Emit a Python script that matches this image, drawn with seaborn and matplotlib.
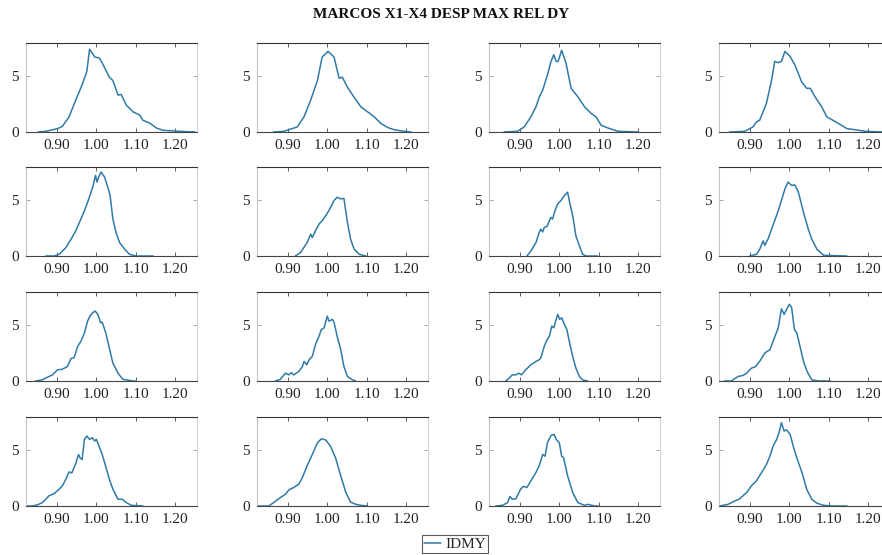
import numpy as np
import pandas as pd
import matplotlib
matplotlib.use("Agg")
import matplotlib.pyplot as plt
import seaborn as sns

# values, one x/y pair per panel (row by row)
x_p1 = [0.853, 0.872, 0.902, 0.914, 0.931, 0.948, 0.965, 0.976, 0.983, 0.996, 1.008, 1.016, 1.033, 1.042,
        1.055, 1.063, 1.076, 1.093, 1.110, 1.118, 1.135, 1.152, 1.169, 1.195, 1.216, 1.250]
y_p1 = [0, 0.06, 0.3, 0.5, 1.35, 2.85, 4.3, 5.4, 7.4, 6.7, 6.6, 6.1, 4.9, 4.6,
        3.3, 3.35, 2.4, 1.8, 1.5, 1.05, 0.8, 0.36, 0.15, 0.1, 0.05, 0]

x_p2 = [0.864, 0.890, 0.924, 0.941, 0.958, 0.975, 0.987, 1.002, 1.017, 1.030, 1.038, 1.051, 1.068, 1.085,
        1.102, 1.119, 1.136, 1.153, 1.170, 1.195, 1.212]
y_p2 = [0, 0.06, 0.45, 1.35, 2.85, 4.6, 6.7, 7.2, 6.7, 4.8, 4.9, 4.0, 3.1, 2.25,
        1.8, 1.35, 0.75, 0.4, 0.2, 0.06, 0]

x_p3 = [0.860, 0.894, 0.911, 0.928, 0.941, 0.949, 0.958, 0.970, 0.979, 0.986, 0.992, 0.997, 1.006, 1.017,
        1.030, 1.047, 1.064, 1.081, 1.093, 1.106, 1.123, 1.149, 1.200]
y_p3 = [0, 0.06, 0.45, 1.35, 2.25, 3.1, 3.75, 5.1, 6.3, 6.9, 6.3, 6.3, 7.3, 6.15,
        3.9, 3.15, 2.25, 1.65, 1.35, 0.6, 0.36, 0.06, 0]

x_p4 = [0.849, 0.887, 0.908, 0.917, 0.925, 0.942, 0.955, 0.963, 0.972, 0.980, 0.989, 1.002, 1.014, 1.031,
        1.044, 1.053, 1.065, 1.082, 1.095, 1.108, 1.125, 1.146, 1.167, 1.193, 1.218, 1.255]
y_p4 = [0, 0.06, 0.45, 0.9, 1.05, 2.55, 4.6, 6.3, 6.2, 6.3, 7.2, 6.75, 6.0, 4.5,
        3.9, 3.9, 3.15, 2.25, 1.35, 1.1, 0.75, 0.3, 0.2, 0.06, 0.02, 0]

x_p5 = [0.872, 0.893, 0.906, 0.923, 0.936, 0.948, 0.961, 0.970, 0.978, 0.991, 0.998, 1.002, 1.006, 1.012,
        1.021, 1.029, 1.035, 1.042, 1.050, 1.059, 1.072, 1.084, 1.101, 1.144]
y_p5 = [0, 0, 0.15, 0.75, 1.5, 2.25, 3.3, 4.05, 4.8, 6.15, 7.2, 6.6, 7.05, 7.5,
        7.05, 6.15, 5.4, 3.3, 2.1, 1.2, 0.6, 0.15, 0, 0]

x_p6 = [0.919, 0.932, 0.949, 0.958, 0.962, 0.970, 0.979, 0.987, 0.996, 1.004, 1.017, 1.025, 1.034, 1.042,
        1.051, 1.059, 1.068, 1.081, 1.098]
y_p6 = [0, 0.3, 1.2, 1.95, 1.65, 2.25, 2.85, 3.15, 3.6, 4.05, 4.95, 5.25, 5.1, 5.15,
        3.0, 1.5, 0.6, 0.15, 0]

x_p7 = [0.918, 0.928, 0.941, 0.949, 0.953, 0.958, 0.962, 0.969, 0.975, 0.979, 0.983, 0.989, 0.996, 1.004,
        1.013, 1.021, 1.028, 1.034, 1.042, 1.051, 1.059, 1.068, 1.097]
y_p7 = [0, 0.45, 1.2, 2.1, 2.4, 2.15, 2.55, 2.65, 3.15, 3.45, 3.3, 4.05, 4.65, 4.95,
        5.4, 5.7, 4.5, 3.6, 1.8, 0.9, 0.15, 0, 0]

x_p8 = [0.900, 0.917, 0.925, 0.934, 0.938, 0.946, 0.955, 0.963, 0.972, 0.980, 0.989, 0.997, 1.006, 1.014,
        1.023, 1.036, 1.048, 1.057, 1.070, 1.087, 1.146]
y_p8 = [0, 0.15, 0.6, 1.35, 0.95, 1.5, 2.4, 3.15, 4.05, 4.95, 6.0, 6.6, 6.3, 6.35,
        5.7, 3.9, 2.4, 1.5, 0.6, 0.06, 0]

x_p9 = [0.846, 0.863, 0.876, 0.889, 0.902, 0.914, 0.927, 0.936, 0.944, 0.953, 0.961, 0.970, 0.978, 0.984,
        0.991, 0.997, 1.004, 1.011, 1.015, 1.024, 1.034, 1.042, 1.055, 1.067, 1.093, 1.101]
y_p9 = [0, 0.1, 0.33, 0.55, 1.0, 1.05, 1.3, 2.0, 2.1, 3.1, 3.55, 4.3, 5.35, 5.8,
        6.1, 6.25, 5.95, 5.2, 5.25, 4.3, 2.8, 1.6, 0.7, 0.15, 0, 0]

x_p10 = [0.868, 0.881, 0.894, 0.903, 0.909, 0.915, 0.928, 0.937, 0.941, 0.948, 0.954, 0.962, 0.970, 0.979,
         0.985, 0.992, 1.000, 1.004, 1.013, 1.017, 1.025, 1.034, 1.042, 1.051, 1.064, 1.072]
y_p10 = [0, 0.15, 0.7, 0.55, 0.75, 0.55, 0.85, 1.3, 1.75, 1.45, 1.9, 2.2, 3.25, 4.0,
         4.6, 4.75, 5.8, 5.35, 5.5, 5.25, 4.0, 2.8, 1.3, 0.4, 0.1, 0]

x_p11 = [0.864, 0.873, 0.881, 0.890, 0.898, 0.904, 0.915, 0.928, 0.935, 0.941, 0.947, 0.953, 0.962, 0.969,
         0.975, 0.981, 0.986, 0.992, 0.996, 1.001, 1.006, 1.013, 1.019, 1.028, 1.034, 1.042, 1.051, 1.059, 1.072]
y_p11 = [0, 0.25, 0.55, 0.55, 0.7, 0.55, 1.0, 1.45, 1.6, 1.75, 1.85, 2.05, 3.1, 3.7,
         4.0, 4.9, 4.75, 5.5, 5.95, 5.5, 5.65, 5.05, 4.6, 3.1, 2.2, 1.15, 0.4, 0.1, 0]

x_p12 = [0.835, 0.853, 0.870, 0.883, 0.892, 0.904, 0.913, 0.925, 0.938, 0.951, 0.959, 0.972, 0.980, 0.987,
         0.993, 1.000, 1.006, 1.013, 1.019, 1.028, 1.036, 1.045, 1.057, 1.074, 1.104]
y_p12 = [0, 0, 0.4, 0.5, 0.7, 1.15, 1.25, 1.75, 2.5, 2.8, 3.55, 4.75, 6.45, 5.95,
         6.4, 6.85, 6.55, 4.6, 4.3, 2.95, 1.75, 0.85, 0.1, 0, 0]

x_p13 = [0.821, 0.838, 0.851, 0.863, 0.872, 0.880, 0.893, 0.906, 0.914, 0.923, 0.931, 0.938, 0.947, 0.955,
         0.959, 0.964, 0.970, 0.976, 0.983, 0.990, 0.996, 1.000, 1.007, 1.015, 1.025, 1.033, 1.042, 1.055,
         1.066, 1.076, 1.089, 1.118]
y_p13 = [0, 0, 0.1, 0.3, 0.6, 0.9, 1.1, 1.5, 1.8, 2.4, 3.05, 2.95, 3.7, 4.6,
         4.3, 4.15, 5.95, 6.25, 5.95, 6.1, 5.8, 5.95, 5.35, 4.6, 3.4, 2.4, 1.5, 0.6,
         0.6, 0.3, 0.06, 0]

x_p14 = [0.826, 0.852, 0.864, 0.881, 0.894, 0.903, 0.915, 0.928, 0.937, 0.949, 0.962, 0.975, 0.985, 0.996,
         1.008, 1.021, 1.034, 1.047, 1.059, 1.072, 1.085, 1.102]
y_p14 = [0, 0, 0.3, 0.75, 1.05, 1.45, 1.65, 1.95, 2.55, 3.6, 4.6, 5.65, 6.0, 5.9,
         5.35, 4.3, 2.7, 1.2, 0.35, 0.15, 0.06, 0]

x_p15 = [0.839, 0.856, 0.869, 0.875, 0.881, 0.890, 0.902, 0.909, 0.918, 0.928, 0.941, 0.949, 0.958, 0.964,
         0.970, 0.979, 0.987, 0.992, 1.000, 1.006, 1.011, 1.021, 1.034, 1.047, 1.064, 1.072, 1.089, 1.098]
y_p15 = [0, 0.06, 0.3, 0.85, 0.6, 0.65, 1.5, 1.75, 1.65, 2.25, 3.0, 3.6, 4.6, 4.45,
         5.65, 6.3, 6.4, 5.95, 5.65, 4.45, 4.3, 2.7, 1.2, 0.3, 0.06, 0.15, 0, 0]

x_p16 = [0.824, 0.845, 0.862, 0.875, 0.879, 0.892, 0.904, 0.917, 0.930, 0.942, 0.951, 0.959, 0.968, 0.974,
         0.980, 0.987, 0.993, 1.002, 1.010, 1.019, 1.032, 1.044, 1.057, 1.070, 1.087, 1.108, 1.146]
y_p16 = [0, 0.15, 0.45, 0.65, 0.8, 1.2, 1.8, 2.25, 3.0, 3.7, 4.45, 5.35, 5.95, 6.55,
         7.45, 6.7, 6.8, 6.4, 5.35, 4.3, 3.0, 1.5, 0.6, 0.25, 0.06, 0, 0]

panels_x = [x_p1, x_p2, x_p3, x_p4, x_p5, x_p6, x_p7, x_p8,
            x_p9, x_p10, x_p11, x_p12, x_p13, x_p14, x_p15, x_p16]
panels_y = [y_p1, y_p2, y_p3, y_p4, y_p5, y_p6, y_p7, y_p8,
            y_p9, y_p10, y_p11, y_p12, y_p13, y_p14, y_p15, y_p16]

x_ticks = [0.90, 1.00, 1.10, 1.20]
x_tick_labels = ["0.90", "1.00", "1.10", "1.20"]
y_ticks = [0, 5]
series_name = "IDMY"
title = "MARCOS X1-X4 DESP MAX REL DY"

sns.set_theme(style="white")
plt.rcParams["font.family"] = ["Liberation Serif", "DejaVu Serif"]

line_color = "#2f7aa6"
W, H = 882, 555
fig = plt.figure(figsize=(W / 100, H / 100), dpi=100)

col_left = [26, 257, 489, 719]
row_top = [43, 167, 292, 417]
ax_w, ax_h = 171, 89

lines = []
for i in range(16):
    r, c = divmod(i, 4)
    ax = fig.add_axes([col_left[c] / W, (H - row_top[r] - ax_h) / H, ax_w / W, ax_h / H])
    df = pd.DataFrame({"x": panels_x[i], "y": panels_y[i]})
    sns.lineplot(data=df, x="x", y="y", ax=ax, color=line_color, linewidth=1.1,
                 estimator=None, sort=False)
    ax.set_xlim(0.822, 1.255)
    ax.set_ylim(0, 7.95)
    ax.set_xticks(x_ticks)
    ax.set_xticklabels(x_tick_labels)
    ax.set_yticks(y_ticks)
    ax.set_xlabel("")
    ax.set_ylabel("")
    ax.tick_params(axis="both", labelsize=11, colors="#222222", direction="in",
                   length=3, width=0.6, pad=5)
    ax.tick_params(axis="x", top=True, bottom=True, color="#444444")
    ax.tick_params(axis="y", left=True, right=True, color="#999999")
    ax.spines["top"].set_color("#333333")
    ax.spines["bottom"].set_color("#444444")
    ax.spines["left"].set_color("#c4c4c4")
    ax.spines["right"].set_color("#d4d4d4")
    for s in ax.spines.values():
        s.set_linewidth(0.8)
    lines.append(ax.lines[0])

fig.text(0.5, 1 - 14 / H, title, ha="center", va="center",
         fontsize=11, fontweight="bold", color="#111111")

leg = fig.legend([lines[0]], [series_name], loc="center",
                 bbox_to_anchor=(455 / W, 1 - 544 / H), fontsize=11,
                 frameon=True, fancybox=False, edgecolor="#333333",
                 handlelength=1.1, handletextpad=0.3, borderpad=0.15,
                 borderaxespad=0)
leg.get_frame().set_linewidth(0.8)

fig.savefig("out.png", dpi=100)
